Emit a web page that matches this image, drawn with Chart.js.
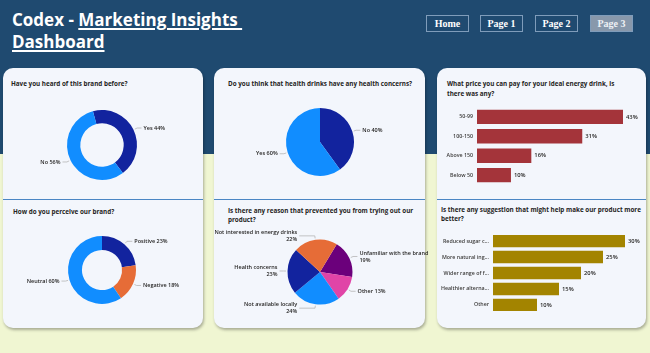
<!DOCTYPE html>
<html><head><meta charset="utf-8">
<script src="https://cdn.jsdelivr.net/npm/chart.js@4.4.0/dist/chart.umd.min.js"></script>
<style>
html,body{margin:0;padding:0;}
body{width:650px;height:353px;position:relative;overflow:hidden;background:#f0f6d2;font-family:"Open Sans",sans-serif;}
#top{position:absolute;left:0;top:0;width:650px;height:154px;background:#1f4a70;}
#title{position:absolute;left:12px;top:9px;color:#fff;font-weight:700;font-size:17px;line-height:22px;white-space:nowrap;}
#title u{text-decoration-thickness:1.5px;text-underline-offset:2px;}
.btn{position:absolute;top:15px;width:41px;height:15px;border:1px solid #7f9cba;color:#fff;font:bold 10px "Liberation Serif",serif;text-align:center;line-height:15px;}
.card{position:absolute;top:68px;height:260px;background:#f3f6fc;border-radius:10px;box-shadow:1px 2px 3px rgba(0,0,0,0.3);}
.dv{position:absolute;left:0;right:0;top:131px;height:1px;background:#4a86c4;}
.t{position:absolute;font-weight:700;font-size:6.3px;color:#252423;line-height:10px;white-space:nowrap;}
canvas{position:absolute;}
</style></head>
<body>
<div id="top"></div>
<div id="title">Codex - <u>Marketing Insights&nbsp;</u><br><u>Dashboard</u></div>
<div class="btn" style="left:426px">Home</div>
<div class="btn" style="left:480px">Page 1</div>
<div class="btn" style="left:535px">Page 2</div>
<div class="btn" style="left:590px;background:#8898ab;color:#eef1f5">Page 3</div>
<div class="card" style="left:3px;width:200px"><div class="dv"></div></div>
<div class="card" style="left:214px;width:211px"><div class="dv"></div></div>
<div class="card" style="left:437px;width:209px"><div class="dv"></div></div>
<div class="t" style="left:11px;top:79px">Have you heard of this brand before?</div>
<div class="t" style="left:228px;top:79px">Do you think that health drinks have any health concerns?</div>
<div class="t" style="left:447px;top:79px">What price you can pay for your ideal energy drink, is<br>there was any?</div>
<div class="t" style="left:13px;top:207px">How do you perceive our brand?</div>
<div class="t" style="left:228px;top:207px;line-height:8.5px">Is there any reason that prevented you from trying out our<br>product?</div>
<div class="t" style="left:441px;top:206px;line-height:8.5px">Is there any suggestion that might help make our product more<br>better?</div>
<script>
const heardLabels = ["Yes", "No"];
const heardValues = [44, 56];
const concernLabels = ["No", "Yes"];
const concernValues = [40, 60];
const priceLabels = ["50-99", "100-150", "Above 150", "Below 50"];
const priceValues = [43, 31, 16, 10];
const perceiveLabels = ["Positive", "Negative", "Neutral"];
const perceiveValues = [23, 18, 60];
const reasonLabels = ["Unfamiliar with the brand", "Other", "Not available locally", "Health concerns", "Not interested in energy drinks"];
const reasonValues = [19, 13, 24, 23, 22];
const suggestionLabels = ["Reduced sugar c...", "More natural ing...", "Wider range of f...", "Healthier alterna...", "Other"];
const suggestionValues = [30, 25, 20, 15, 10];

const NAVY = '#12239e', BLUE = '#118dff', ORANGE = '#e66c37', PURPLE = '#6b007b', PINK = '#e044a7';

const pieLabelPlugin = {
  id: 'pieLabels',
  afterDatasetsDraw(chart, args, opts) {
    const ctx = chart.ctx, meta = chart.getDatasetMeta(0);
    const labels = chart.data.labels, vals = chart.data.datasets[0].data;
    ctx.save();
    ctx.font = '600 5.5px "Open Sans"';
    ctx.fillStyle = '#252423';
    ctx.strokeStyle = '#b5b5b5';
    ctx.lineWidth = 0.8;
    ctx.textBaseline = 'middle';
    meta.data.forEach((arc, i) => {
      const p = arc.getProps(['x', 'y', 'startAngle', 'endAngle', 'outerRadius'], true);
      const m = (p.startAngle + p.endAngle) / 2, R = p.outerRadius;
      const dx = Math.cos(m), dy = Math.sin(m);
      const side = dx >= 0 ? 1 : -1;
      const ax = p.x + dx * (R + 1.5), ay = p.y + dy * (R + 1.5);
      const ex = p.x + dx * (R + 4), ey = p.y + dy * (R + 4);
      const edge = p.x + side * Math.max(Math.abs(dx) * R + 10, 0.7 * R);
      ctx.beginPath(); ctx.moveTo(ax, ay); ctx.lineTo(ex, ey); ctx.lineTo(edge - side * 2, ey); ctx.stroke();
      const pct = vals[i] + '%';
      const lines = (opts.wrap && labels[i].length > 6) ? [labels[i], pct] : [labels[i] + ' ' + pct];
      ctx.textAlign = side > 0 ? 'left' : 'right';
      const lh = 7, y0 = ey - (lines.length - 1) * lh / 2;
      lines.forEach((s, k) => ctx.fillText(s, edge, y0 + k * lh));
    });
    ctx.restore();
  }
};

const barValuePlugin = {
  id: 'barValues',
  afterDatasetsDraw(chart) {
    const ctx = chart.ctx, meta = chart.getDatasetMeta(0), vals = chart.data.datasets[0].data;
    ctx.save();
    ctx.font = '600 5.8px "Open Sans"';
    ctx.fillStyle = '#252423';
    ctx.textBaseline = 'middle';
    ctx.textAlign = 'left';
    meta.data.forEach((b, i) => ctx.fillText(vals[i] + '%', b.x + 3, b.y));
    ctx.restore();
  }
};

function mkCanvas(left, top, w, h) {
  const c = document.createElement('canvas');
  c.width = w; c.height = h;
  c.style.left = left + 'px'; c.style.top = top + 'px';
  c.style.width = w + 'px'; c.style.height = h + 'px';
  document.body.appendChild(c);
  return c;
}

function pieChart(left, top, w, h, cx, cy, r, labels, values, colors, cutout, rotation, wrap) {
  const c = mkCanvas(left, top, w, h);
  const rx = cx - left, ry = cy - top;
  new Chart(c, {
    type: cutout ? 'doughnut' : 'pie',
    data: { labels: labels, datasets: [{ data: values, backgroundColor: colors, borderWidth: 0, hoverOffset: 0 }] },
    options: {
      responsive: false, animation: false, rotation: rotation, cutout: cutout || 0,
      layout: { padding: { left: rx - r, right: w - rx - r, top: ry - r, bottom: h - ry - r } },
      plugins: { legend: { display: false }, tooltip: { enabled: false }, pieLabels: { wrap: !!wrap } }
    },
    plugins: [pieLabelPlugin]
  });
}

function barChart(left, top, w, h, areaL, areaR, areaT, areaB, labels, values, color, barPct) {
  const c = mkCanvas(left, top, w, h);
  new Chart(c, {
    type: 'bar',
    data: { labels: labels, datasets: [{ data: values, backgroundColor: color, borderWidth: 0, barPercentage: barPct, categoryPercentage: 1 }] },
    options: {
      indexAxis: 'y', responsive: false, animation: false,
      layout: { padding: { left: 0, right: left + w - areaR, top: areaT - top, bottom: top + h - areaB } },
      scales: {
        x: { display: false, min: 0, max: Math.max(...values) },
        y: {
          grid: { display: false, drawTicks: false }, border: { display: false },
          ticks: { autoSkip: false, padding: 4, color: '#3b3a39', font: { size: 5.3, family: 'Open Sans', weight: '600' } },
          afterFit(s) { s.width = areaL - left; }
        }
      },
      plugins: { legend: { display: false }, tooltip: { enabled: false } }
    },
    plugins: [barValuePlugin]
  });
}

pieChart(0, 92, 210, 104, 102, 145, 35, heardLabels, heardValues, [NAVY, BLUE], '62%', -15);
pieChart(205, 92, 235, 104, 320, 142, 34, concernLabels, concernValues, [NAVY, BLUE], 0, 0);
barChart(437, 100, 209, 92, 477, 623, 104.85, 186.15, priceLabels, priceValues, '#a4343a', 0.74);
pieChart(0, 222, 210, 100, 102, 270, 34, perceiveLabels, perceiveValues, [NAVY, ORANGE, BLUE], '59%', 0);
pieChart(205, 222, 235, 104, 320, 272, 32.5, reasonLabels, reasonValues, [PURPLE, PINK, BLUE, NAVY, ORANGE], 0, 31, true);
barChart(437, 226, 209, 94, 493, 625, 231.6, 315.4, suggestionLabels, suggestionValues, '#a38400', 0.78);
</script>
</body></html>
